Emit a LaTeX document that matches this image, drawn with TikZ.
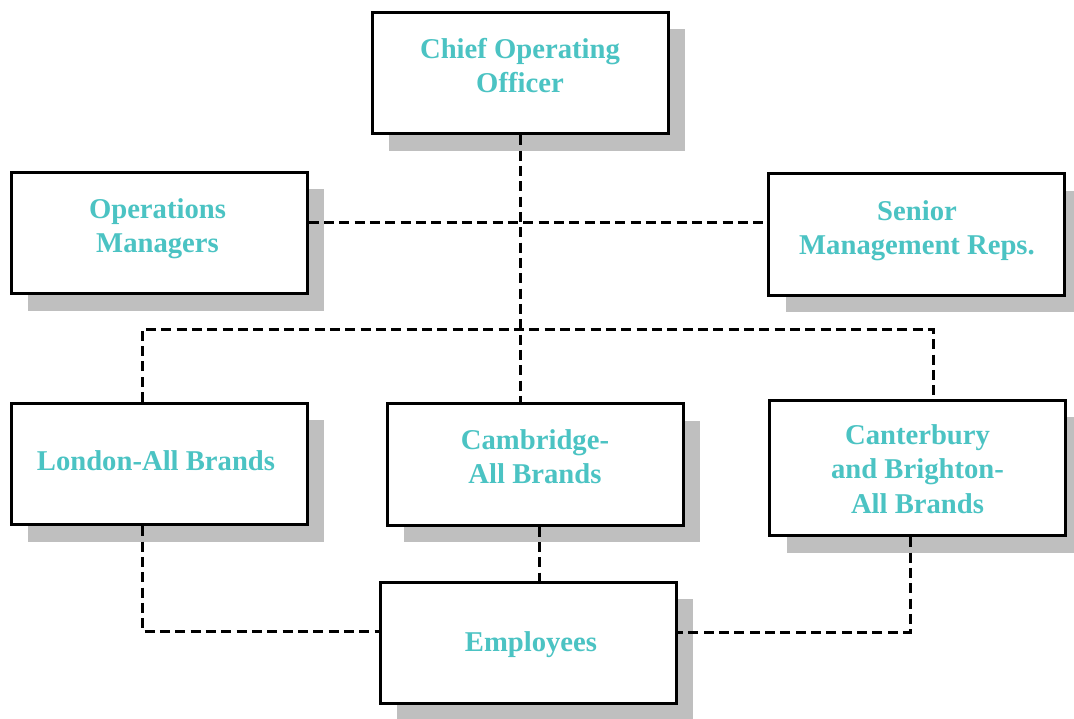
\documentclass[tikz,border=0pt]{standalone}
\usepackage{fontspec}
\setmainfont{Liberation Serif}
\usetikzlibrary{shadows}

\definecolor{cteal}{RGB}{75,195,195}
\definecolor{cshadow}{RGB}{191,191,191}

\tikzset{every picture/.style={line width=0.75pt}}
\tikzset{
  orgbox/.style={draw, line width=2.25pt, fill=white, minimum width=222pt, minimum height=91pt,
    drop shadow={shadow xshift=12.75pt, shadow yshift=-12.75pt, fill=cshadow, opacity=1}},
  orgtext/.style={text=cteal, font=\fontsize{21.5}{26}\selectfont\bfseries, align=center, inner sep=0pt},
  link/.style={line width=2.25pt, dash pattern={on 7.5pt off 4pt}, line join=miter}
}

\begin{document}
\begin{tikzpicture}[x=0.75pt,y=0.75pt,yscale=-1,xscale=1]
\useasboundingbox (0,0) rectangle (1074,718);

%Shape: Rectangle [boxes]
\node [orgbox] (coo) at (520,73) {};
\node [orgbox] (opsm) at (159,233) {};
\node [orgbox] (senior) at (916.5,234.5) {};
\node [orgbox] (london) at (159,464) {};
\node [orgbox] (cambridge) at (535,464.5) {};
\node [orgbox, minimum height=101.5pt] (canterbury) at (917.5,468) {};
\node [orgbox] (employees) at (528,643) {};

%Helper points for the dashed links
\coordinate (opsy) at (520,222);
\coordinate (busl) at (142,329);
\coordinate (busr) at (933,329);
\coordinate (camb) at (539,553);
\coordinate (empl) at (142,631);
\coordinate (empr) at (910,632);

%Dashed Lines
\draw [link] (coo.south) -- (coo.south |- cambridge.north);
\draw [link] (opsm.east |- opsy) -- (senior.west |- opsy);
\draw [link] (london.north -| busl) -- (busl) -- (busr) -- (canterbury.north -| busr);
\draw [link] (cambridge.south -| camb) -- (employees.north -| camb);
\draw [link] (london.south -| empl) -- (empl) -- (employees.west |- empl);
\draw [link] (canterbury.south -| empr) -- (empr) -- (employees.east |- empr);

% Text Node
\node [orgtext] (coo-t) at (520,65.5) {Chief Operating\\Officer};
% Text Node
\node [orgtext] (opsm-t) at (157.5,228.7) {Operations\\Managers};
% Text Node
\node [orgtext] (senior-t) at (917,230.6) {Senior\\Management Reps.};
% Text Node
\node [orgtext] (london-t) at (156,460.2) {London-All Brands};
% Text Node
\node [orgtext] (cambridge-t) at (535,456.6) {Cambridge-\\All Brands};
% Text Node
\node [orgtext] (canterbury-t) at (917.5,468.9) {Canterbury\\and Brighton-\\All Brands};
% Text Node
\node [orgtext] (employees-t) at (531,644.3) {Employees};

\end{tikzpicture}
\end{document}
